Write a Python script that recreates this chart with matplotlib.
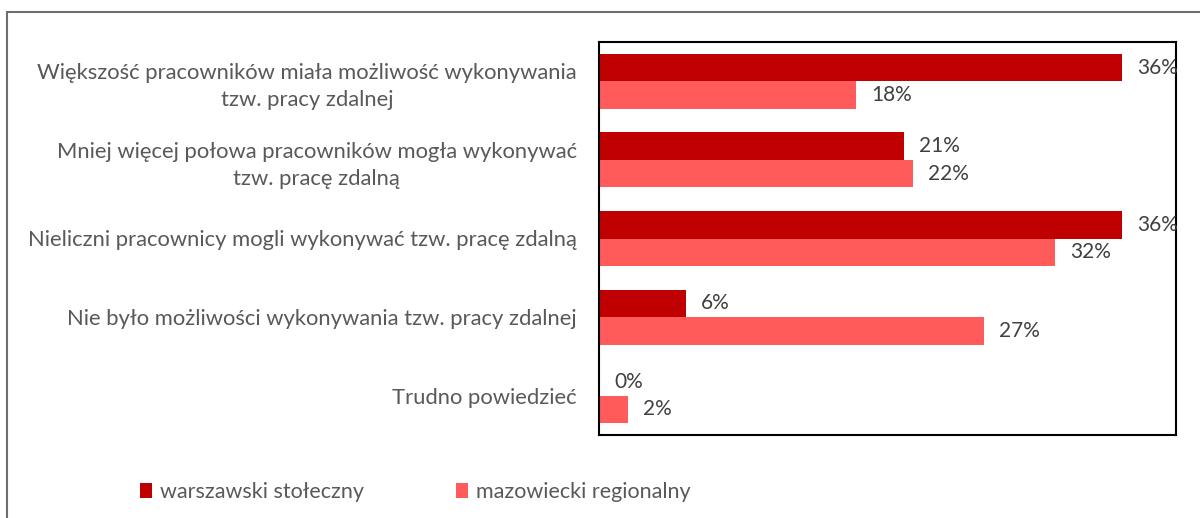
import matplotlib
matplotlib.use("Agg")
import matplotlib.pyplot as plt
from matplotlib.patches import Rectangle, Patch
import numpy as np

categories = [
    "Większość pracowników miała możliwość wykonywania\ntzw. pracy zdalnej",
    "Mniej więcej połowa pracowników mogła wykonywać\ntzw. pracę zdalną",
    "Nieliczni pracownicy mogli wykonywać tzw. pracę zdalną",
    "Nie było możliwości wykonywania tzw. pracy zdalnej",
    "Trudno powiedzieć",
]
series_names = ["warszawski stołeczny", "mazowiecki regionalny"]
warszawski = [36.0, 21.0, 36.0, 6.0, 0.0]
mazowiecki = [17.7, 21.6, 31.4, 26.5, 2.0]
warszawski_labels = ["36%", "21%", "36%", "6%", "0%"]
mazowiecki_labels = ["18%", "22%", "32%", "27%", "2%"]

colors = ["#C00000", "#FF5B5B"]
text_color = "#595959"
label_color = "#404040"

plt.rcParams['font.family'] = ['Lato', 'DejaVu Sans']

fig = plt.figure(figsize=(12, 5.18), dpi=100)
ax = fig.add_axes([599/1200, 1-435/518, 577/1200, 393/518])

n = len(categories)
y = np.arange(n)
h = 0.35
ax.barh(y - h/2, warszawski, height=h, color=colors[0], edgecolor='none')
ax.barh(y + h/2, mazowiecki, height=h, color=colors[1], edgecolor='none')

for i in range(n):
    ax.annotate(warszawski_labels[i], (warszawski[i], y[i] - h/2), xytext=(11, 0),
                textcoords='offset points', va='center', ha='left', fontsize=15,
                color=label_color, annotation_clip=False)
    ax.annotate(mazowiecki_labels[i], (mazowiecki[i], y[i] + h/2), xytext=(11, 0),
                textcoords='offset points', va='center', ha='left', fontsize=15,
                color=label_color, annotation_clip=False)

ax.set_xlim(0, 39.75)
ax.set_ylim(n - 0.5, -0.5)
ax.set_xticks([])
ax.set_yticks(y)
ax.set_yticklabels(categories, fontsize=15.8, color=text_color, multialignment='center',
                   linespacing=1.45)
ax.tick_params(axis='y', length=0, pad=16)
for s in ax.spines.values():
    s.set_color('black')
    s.set_linewidth(1.5)

# outer chart frame (cropped)
fig.add_artist(Rectangle((7/1200, -0.1), 1.2, 1 - 12/518 + 0.1, transform=fig.transFigure,
                         fill=False, edgecolor='#6e6e6e', linewidth=1.5))

handles = [Patch(facecolor=c, edgecolor='none') for c in colors]
fig.legend(handles, series_names, loc='center left', bbox_to_anchor=(121/1200, 1-492/518),
           ncol=2, frameon=False, fontsize=15.5, handlelength=0.55, handleheight=0.65,
           handletextpad=0.35, columnspacing=4.3, labelcolor=text_color)

fig.savefig("out.png", dpi=100)
